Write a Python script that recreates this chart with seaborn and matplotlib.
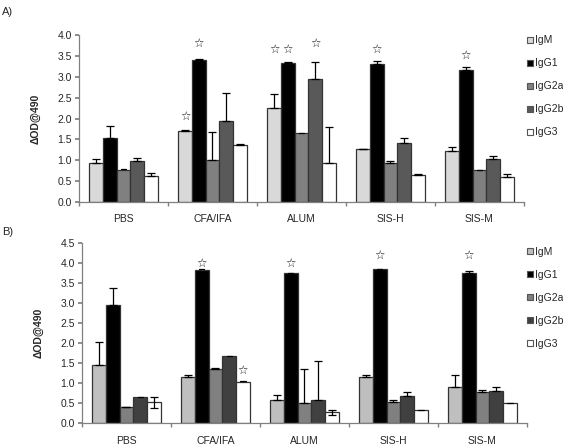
import numpy as np
import pandas as pd
import seaborn as sns
import matplotlib.pyplot as plt
from matplotlib.lines import Line2D

groups = ["PBS", "CFA/IFA", "ALUM", "SIS-H", "SIS-M"]
isotypes = ["IgM", "IgG1", "IgG2a", "IgG2b", "IgG3"]

# Panel A values (rows: isotypes, cols: groups)
a_IgM = [0.93, 1.70, 2.26, 1.27, 1.21]
a_IgG1 = [1.53, 3.41, 3.33, 3.31, 3.16]
a_IgG2a = [0.77, 1.00, 1.65, 0.93, 0.76]
a_IgG2b = [0.97, 1.93, 2.94, 1.42, 1.04]
a_IgG3 = [0.63, 1.36, 0.93, 0.65, 0.61]
a_err_IgM = [0.11, 0.02, 0.32, 0.01, 0.11]
a_err_IgG1 = [0.30, 0.01, 0.02, 0.06, 0.08]
a_err_IgG2a = [0.00, 0.67, 0.00, 0.04, 0.00]
a_err_IgG2b = [0.08, 0.69, 0.41, 0.12, 0.05]
a_err_IgG3 = [0.06, 0.04, 0.87, 0.01, 0.05]
a_stars = [("CFA/IFA", "IgM", 2.06), ("CFA/IFA", "IgG1", 3.81), ("ALUM", "IgM", 3.66),
           ("ALUM", "IgG1", 3.66), ("ALUM", "IgG2b", 3.81), ("SIS-H", "IgG1", 3.66),
           ("SIS-M", "IgG1", 3.50)]

# Panel B values
b_IgM = [1.46, 1.16, 0.57, 1.14, 0.91]
b_IgG1 = [2.94, 3.83, 3.74, 3.85, 3.75]
b_IgG2a = [0.39, 1.35, 0.49, 0.53, 0.78]
b_IgG2b = [0.64, 1.67, 0.57, 0.67, 0.81]
b_IgG3 = [0.52, 1.03, 0.27, 0.32, 0.49]
b_err_IgM = [0.57, 0.03, 0.13, 0.07, 0.30]
b_err_IgG1 = [0.43, 0.00, 0.00, 0.00, 0.04]
b_err_IgG2a = [0.02, 0.02, 0.85, 0.04, 0.04]
b_err_IgG2b = [0.00, 0.00, 0.99, 0.10, 0.09]
b_err_IgG3 = [0.14, 0.00, 0.06, 0.00, 0.00]
b_stars = [("CFA/IFA", "IgG1", 4.00), ("CFA/IFA", "IgG3", 1.32), ("ALUM", "IgG1", 4.00),
           ("SIS-H", "IgG1", 4.19), ("SIS-M", "IgG1", 4.19)]

colors_a = ["#d9d9d9", "#000000", "#808080", "#595959", "#ffffff"]
colors_b = ["#bfbfbf", "#000000", "#808080", "#404040", "#ffffff"]

sns.set_theme(style="white")
plt.rcParams["font.family"] = ["Liberation Sans", "DejaVu Sans"]

fig = plt.figure(figsize=(5.63, 4.45), dpi=100)
ax_a = fig.add_axes([0.1403, 0.5461, 0.7904, 0.3752])
ax_b = fig.add_axes([0.1456, 0.0494, 0.7904, 0.4045])


def make_df(vals, errs):
    rows = []
    for iso, v, e in zip(isotypes, vals, errs):
        for g, vv, ee in zip(groups, v, e):
            rows.append({"group": g, "isotype": iso, "value": vv, "err": ee})
    return pd.DataFrame(rows)


def draw(ax, df, colors, ymax, stars, legend_y, two_sided):
    sns.barplot(data=df, x="group", y="value", hue="isotype", order=groups,
                hue_order=isotypes, palette=colors, errorbar=None, width=0.77,
                edgecolor="#333333", linewidth=0.9, saturation=1, ax=ax,
                legend=False, zorder=2)
    centers = {}
    for i, iso in enumerate(isotypes):
        cont = ax.containers[i]
        sub = df[df.isotype == iso].set_index("group").loc[groups]
        for g, patch, v, e in zip(groups, cont.patches, sub["value"], sub["err"]):
            cx = patch.get_x() + patch.get_width() / 2
            centers[(g, iso)] = cx
            if e > 0.005:
                lower = e if iso in two_sided else 0
                ax.errorbar(cx, v, yerr=[[lower], [e]], fmt="none", ecolor="black",
                            elinewidth=0.9, capsize=3, capthick=0.9, zorder=3)
            else:
                ax.plot([cx - 0.03, cx + 0.03], [v + 0.01, v + 0.01], color="black",
                        lw=0.9, zorder=3)
    for g, iso, y in stars:
        ax.text(centers[(g, iso)], y, "\u2606", ha="center", va="center",
                fontsize=8.5, family="DejaVu Sans", color="#111111")
    ax.set_ylim(0, ymax)
    ax.set_xlim(-0.5, 4.5)
    ax.set_yticks(np.arange(0, ymax + 0.01, 0.5))
    ax.set_yticklabels([f"{t:.1f}" for t in np.arange(0, ymax + 0.01, 0.5)])
    ax.set_xticks(range(len(groups)))
    ax.set_xticklabels(groups)
    ax.set_xticks(np.arange(-0.5, 5, 1), minor=True)
    ax.tick_params(axis="x", which="major", length=0, pad=9, labelsize=7.5)
    ax.tick_params(axis="x", which="minor", length=3, color="#808080", direction="out",
                   bottom=True)
    ax.tick_params(axis="y", length=3, color="#808080", direction="out", left=True,
                   labelsize=7.5, pad=2)
    for s in ["top", "right"]:
        ax.spines[s].set_visible(False)
    for s in ["left", "bottom"]:
        ax.spines[s].set_color("#808080")
        ax.spines[s].set_linewidth(0.9)
    ax.set_xlabel("")
    ax.set_ylabel("\u0394OD@490", fontsize=7.5, fontweight="bold", labelpad=12)
    handles = [Line2D([0], [0], marker="s", linestyle="none", markersize=5,
                      markerfacecolor=c, markeredgecolor="#555555", markeredgewidth=0.8)
               for c in colors]
    fig.legend(handles, isotypes, loc="upper left", bbox_to_anchor=(0.925, legend_y),
               frameon=False, fontsize=7.5, handletextpad=0.0, labelspacing=1.25,
               handlelength=1.0, borderaxespad=0)


draw(ax_a, make_df([a_IgM, a_IgG1, a_IgG2a, a_IgG2b, a_IgG3],
                   [a_err_IgM, a_err_IgG1, a_err_IgG2a, a_err_IgG2b, a_err_IgG3]),
     colors_a, 4.0, a_stars, 0.930, [])
draw(ax_b, make_df([b_IgM, b_IgG1, b_IgG2a, b_IgG2b, b_IgG3],
                   [b_err_IgM, b_err_IgG1, b_err_IgG2a, b_err_IgG2b, b_err_IgG3]),
     colors_b, 4.5, b_stars, 0.455, ["IgG3"])

fig.text(0.004, 0.985, "A)", fontsize=8, va="top", ha="left")
fig.text(0.004, 0.49, "B)", fontsize=8, va="top", ha="left")

fig.savefig("out.png", dpi=100)
